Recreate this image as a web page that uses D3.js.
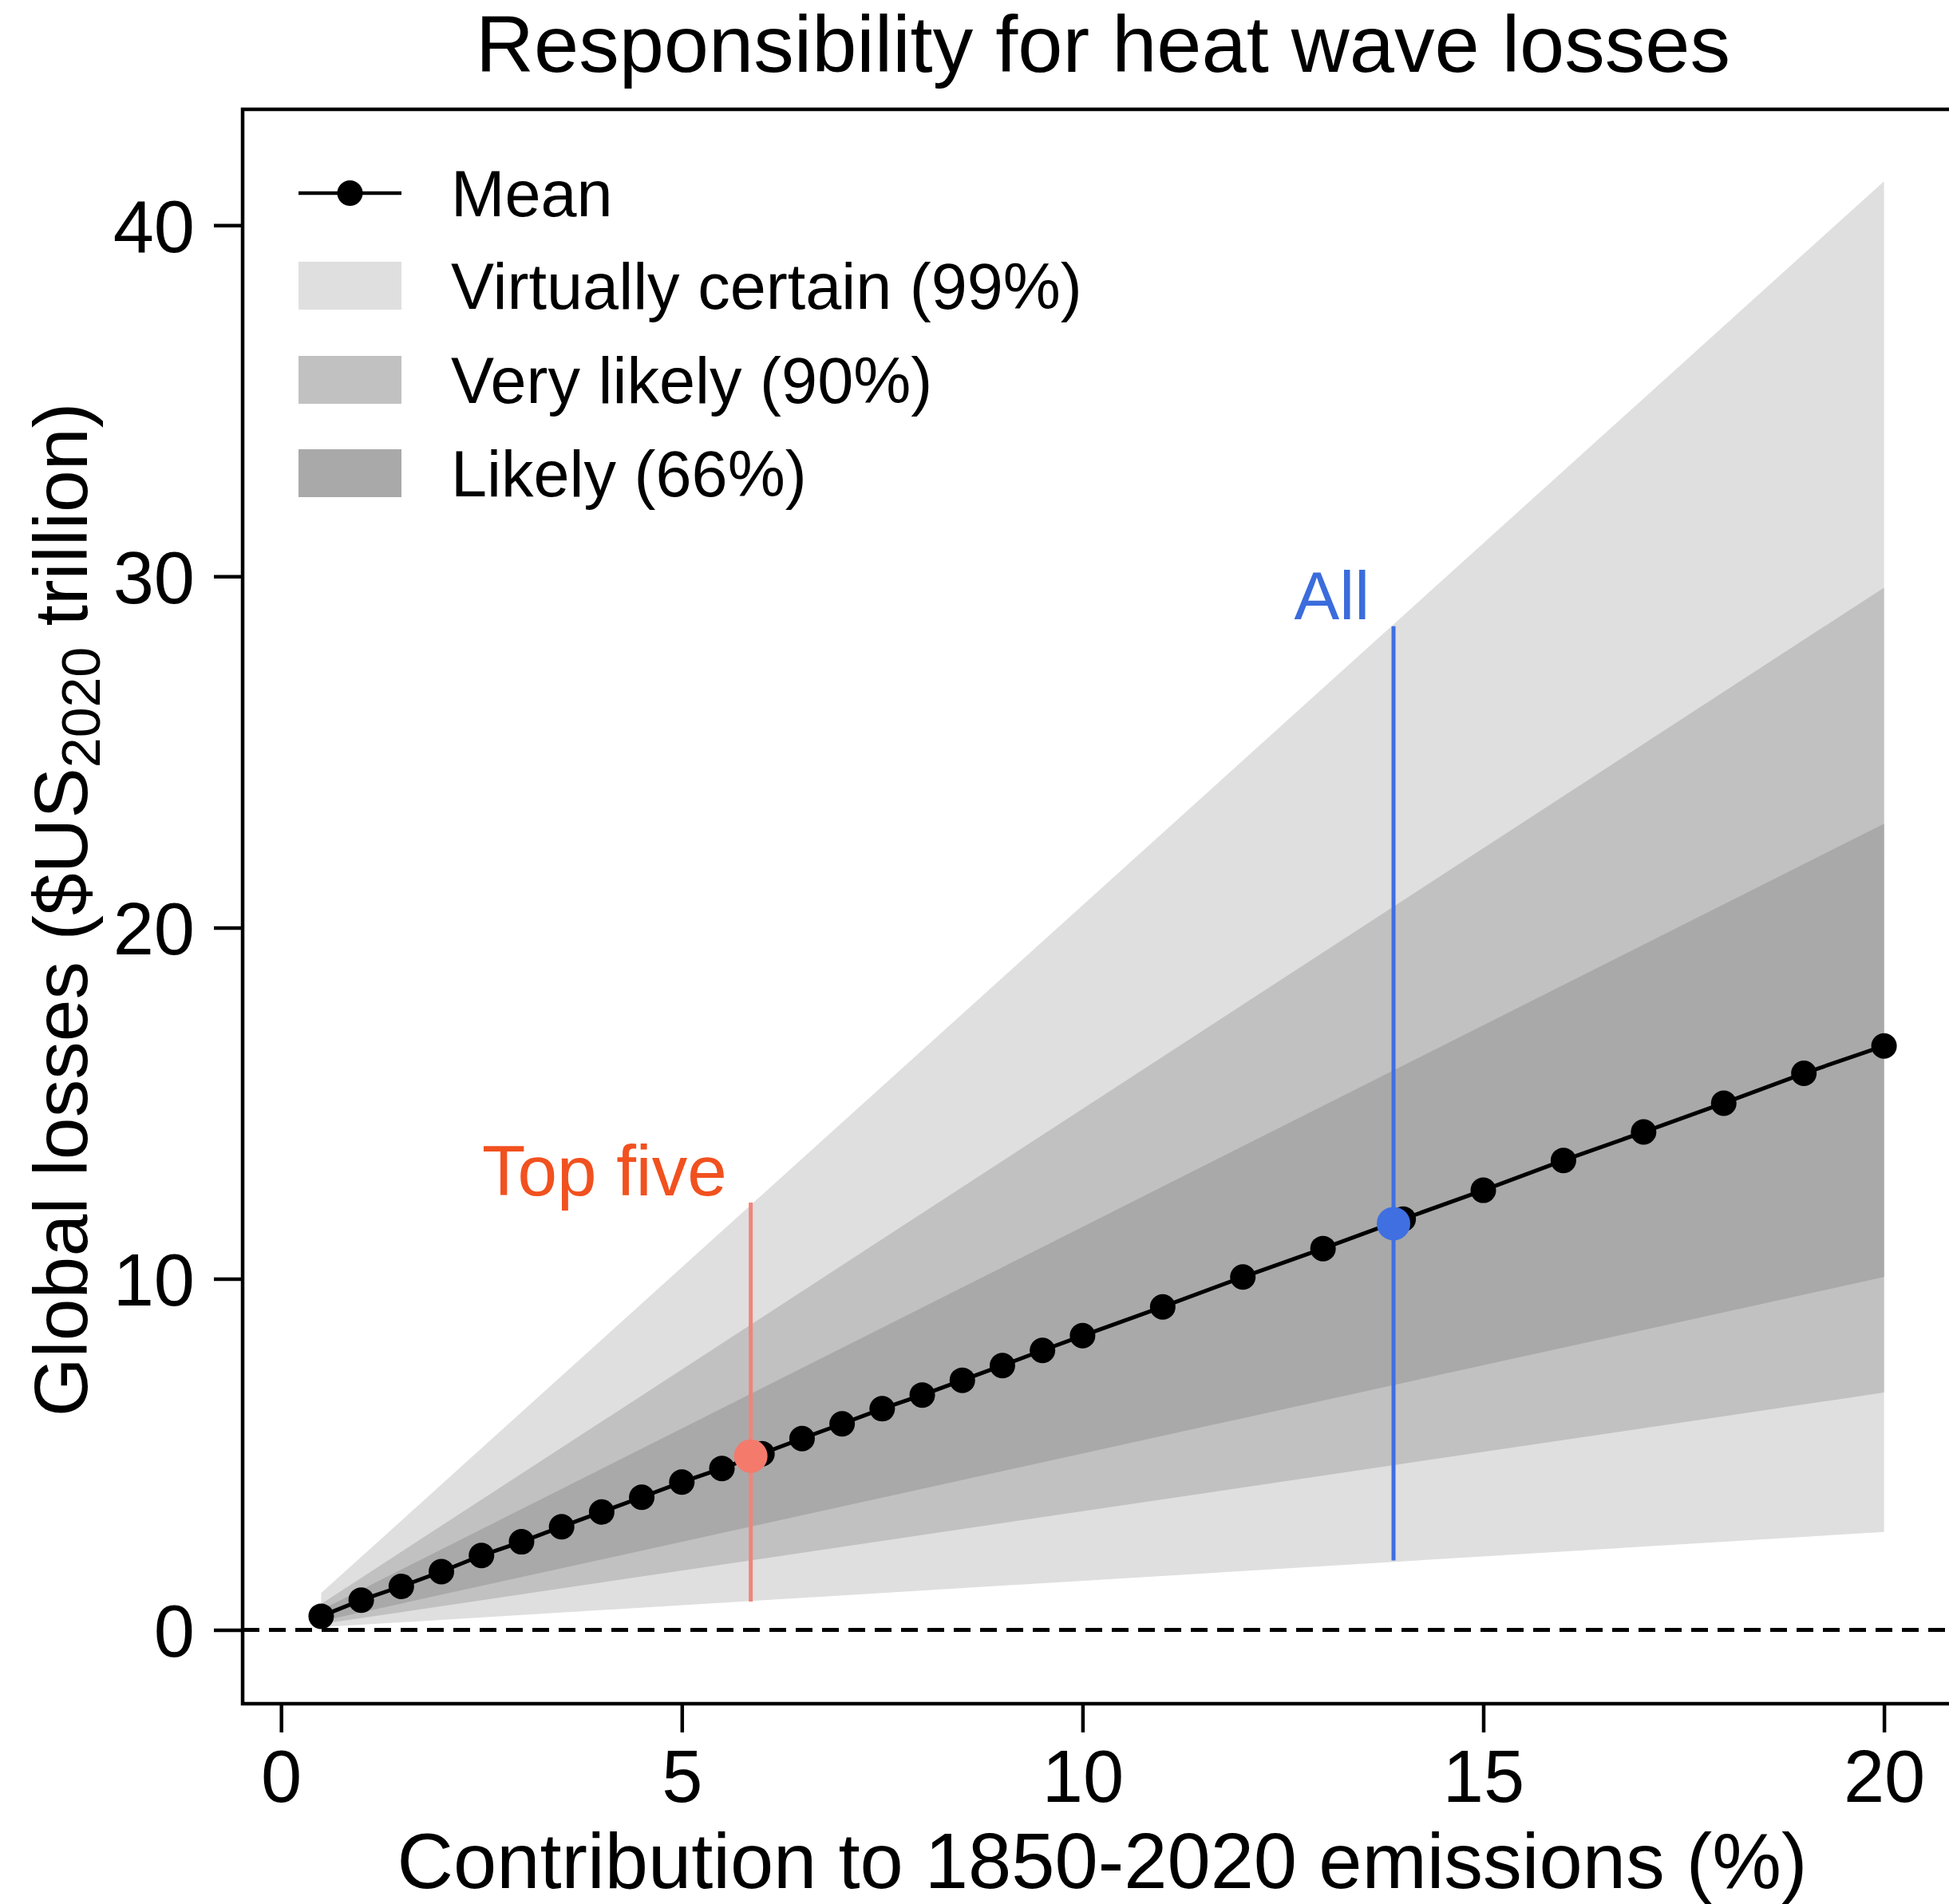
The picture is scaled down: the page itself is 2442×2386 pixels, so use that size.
<!DOCTYPE html>
<html>
<head>
<meta charset="utf-8">
<script src="https://cdn.jsdelivr.net/npm/d3@7"></script>
<style>
  html, body { margin: 0; padding: 0; background: #fff; }
  svg { display: block; font-family: "Liberation Sans", Arial, Helvetica, sans-serif; }
</style>
</head>
<body>
<svg id="chart" width="2442" height="2386"></svg>
<script>
// ---------- DATA ----------
const meanX = [0.5, 1, 1.5, 2, 2.5, 3, 3.5, 4, 4.5, 5, 5.5, 6, 6.5, 7, 7.5, 8, 8.5, 9, 9.5, 10,
               11, 12, 13, 14, 15, 16, 17, 18, 19, 20];
const meanY = [0.39, 0.85, 1.24, 1.66, 2.12, 2.51, 2.94, 3.36, 3.78, 4.21, 4.60, 5.02, 5.45, 5.87, 6.30, 6.69, 7.11, 7.53, 7.96, 8.38,
               9.20, 10.05, 10.86, 11.70, 12.52, 13.37, 14.18, 15.00, 15.85, 16.63];

const bandX = [0.5, 20];
const band99Low = [0.08, 2.79];
const band99High = [1.05, 41.25];
const band90Low = [0.17, 6.76];
const band90High = [0.74, 29.68];
const band66Low = [0.25, 10.05];
const band66High = [0.57, 22.96];

const highlightNames = ["Top five", "All"];
const highlightX = [5.86, 13.88];
const highlightMean = [4.95, 11.57];
const highlightLow = [0.81, 1.98];
const highlightHigh = [12.17, 28.58];

const legendLabels = ["Mean", "Virtually certain (99%)", "Very likely (90%)", "Likely (66%)"];
const xTicks = [0, 5, 10, 15, 20];
const yTicks = [0, 10, 20, 30, 40];

const titleText = "Responsibility for heat wave losses";
const xTitle = "Contribution to 1850-2020 emissions (%)";

// ---------- STYLE ----------
const bandColors = ["#dfdfdf", "#c1c1c1", "#a9a9a9"];
const hlLineColors = ["#f0857a", "#3f6fe0"];
const hlDotColors = ["#f47a6c", "#3f6fe0"];
const hlTextColors = ["#f1511f", "#3b6cdc"];
const hlFontSizes = [89, 85];

const svg = d3.select("#chart");

const x = d3.scaleLinear().domain([-0.48, 20.97]).range([304, 2458]);
const y = d3.scaleLinear().domain([-2.1, 43.3]).range([2135, 137]);

// bands
const bands = [
  {lo: band99Low, hi: band99High, c: bandColors[0]},
  {lo: band90Low, hi: band90High, c: bandColors[1]},
  {lo: band66Low, hi: band66High, c: bandColors[2]}
];
const area = d3.area().x(d => x(d.x)).y0(d => y(d.lo)).y1(d => y(d.hi));
bands.forEach(b => {
  const pts = bandX.map((v, i) => ({x: v, lo: b.lo[i], hi: b.hi[i]}));
  svg.append("path").attr("d", area(pts)).attr("fill", b.c);
});

// zero line
svg.append("line")
  .attr("x1", x.range()[0]).attr("x2", x.range()[1])
  .attr("y1", y(0)).attr("y2", y(0))
  .attr("stroke", "#000").attr("stroke-width", 5)
  .attr("stroke-dasharray", "21,12");

// highlight vertical lines
highlightX.forEach((hx, i) => {
  svg.append("line")
    .attr("x1", x(hx)).attr("x2", x(hx))
    .attr("y1", y(highlightLow[i])).attr("y2", y(highlightHigh[i]))
    .attr("stroke", hlLineColors[i]).attr("stroke-width", 5);
});

// mean line
const meanPts = meanX.map((v, i) => [v, meanY[i]]);
svg.append("path")
  .attr("d", d3.line().x(d => x(d[0])).y(d => y(d[1]))(meanPts))
  .attr("fill", "none").attr("stroke", "#000").attr("stroke-width", 5);
svg.selectAll("circle.mean").data(meanPts).enter().append("circle")
  .attr("class", "mean")
  .attr("cx", d => x(d[0])).attr("cy", d => y(d[1])).attr("r", 16)
  .attr("fill", "#000");

// highlight dots & labels
highlightX.forEach((hx, i) => {
  svg.append("circle")
    .attr("cx", x(hx)).attr("cy", y(highlightMean[i])).attr("r", 21)
    .attr("fill", hlDotColors[i]);
  svg.append("text")
    .attr("x", x(hx) - 30).attr("y", y(highlightHigh[i]) - 9)
    .attr("text-anchor", "end")
    .attr("font-size", hlFontSizes[i])
    .attr("fill", hlTextColors[i])
    .text(highlightNames[i]);
});

// frame
svg.append("rect")
  .attr("x", x.range()[0]).attr("y", y.range()[1])
  .attr("width", x.range()[1] - x.range()[0])
  .attr("height", y.range()[0] - y.range()[1])
  .attr("fill", "none").attr("stroke", "#000").attr("stroke-width", 4.5);

// axes
const xAxis = svg.append("g")
  .attr("transform", `translate(0,${y.range()[0]})`)
  .call(d3.axisBottom(x).tickValues(xTicks).tickSize(36).tickPadding(22).tickFormat(d3.format("d")));
const yAxis = svg.append("g")
  .attr("transform", `translate(${x.range()[0]},0)`)
  .call(d3.axisLeft(y).tickValues(yTicks).tickSize(36).tickPadding(24).tickFormat(d3.format("d")));
[xAxis, yAxis].forEach(g => {
  g.select(".domain").remove();
  g.selectAll(".tick line").attr("stroke", "#000").attr("stroke-width", 4.5);
  g.selectAll(".tick text").attr("font-size", 92).attr("fill", "#000")
    .attr("font-family", '"Liberation Sans", Arial, sans-serif');
});
yAxis.selectAll(".tick text").attr("dy", "0.36em");

// title
svg.append("text")
  .attr("x", 1382).attr("y", 90)
  .attr("text-anchor", "middle")
  .attr("font-size", 101)
  .attr("fill", "#000")
  .text(titleText);

// x title
svg.append("text")
  .attr("x", (x.range()[0] + x.range()[1]) / 2).attr("y", 2366)
  .attr("text-anchor", "middle")
  .attr("font-size", 97.5)
  .attr("fill", "#000")
  .text(xTitle);

// y title
const yt = svg.append("text")
  .attr("transform", "translate(109,1140) rotate(-90)")
  .attr("text-anchor", "middle")
  .attr("font-size", 95)
  .attr("fill", "#000");
yt.append("tspan").text("Global losses ($US");
yt.append("tspan").attr("font-size", 68).attr("dy", 16).text("2020");
yt.append("tspan").attr("dy", -16).text(" trillion)");

// legend
const legX0 = 374, legX1 = 503, legTextX = 565;
const legY = [242, 358, 476, 593];
const lg = svg.append("g");
lg.append("line").attr("x1", legX0).attr("x2", legX1).attr("y1", legY[0]).attr("y2", legY[0])
  .attr("stroke", "#000").attr("stroke-width", 4.5);
lg.append("circle").attr("cx", (legX0 + legX1) / 2).attr("cy", legY[0]).attr("r", 16).attr("fill", "#000");
for (let i = 1; i < 4; i++) {
  lg.append("rect").attr("x", legX0).attr("y", legY[i] - 30)
    .attr("width", legX1 - legX0).attr("height", 60).attr("fill", bandColors[i - 1]);
}
legendLabels.forEach((t, i) => {
  lg.append("text").attr("x", legTextX).attr("y", legY[i] + 29)
    .attr("font-size", 81).attr("fill", "#000").text(t);
});
</script>
</body>
</html>
